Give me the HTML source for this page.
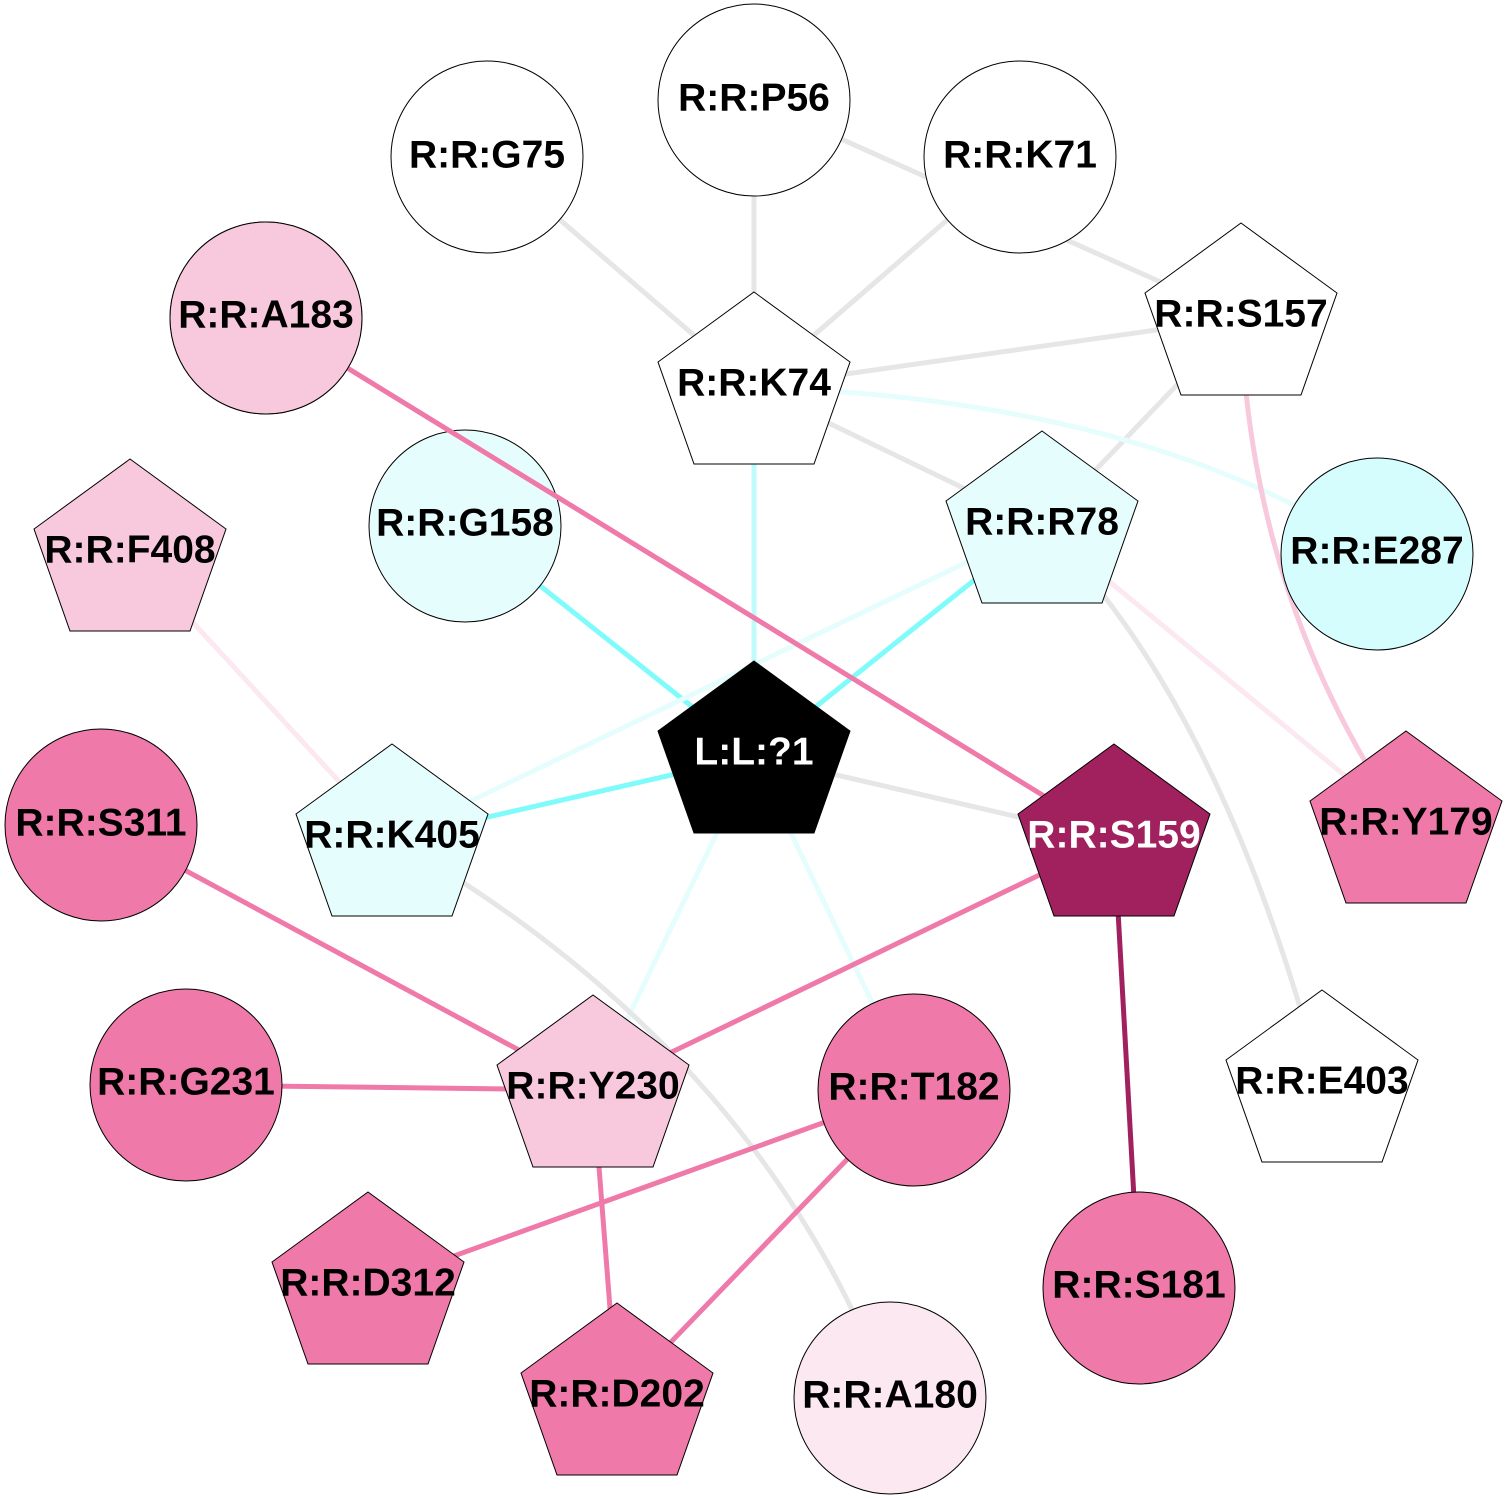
<!DOCTYPE html>
<html><head><meta charset="utf-8"><style>body{margin:0;background:#fff}svg{display:block}text{font-family:"Liberation Sans",sans-serif;font-weight:bold;font-size:39px;text-anchor:middle;dominant-baseline:central}</style></head><body>
<svg width="1507" height="1500" viewBox="0 0 1507 1500" xmlns="http://www.w3.org/2000/svg">
<g fill="none" stroke-width="5">
<line x1="754" y1="100" x2="754" y2="387" stroke="#e6e6e6"/>
<line x1="487" y1="157" x2="754" y2="387" stroke="#e6e6e6"/>
<line x1="1020" y1="157" x2="754" y2="387" stroke="#e6e6e6"/>
<line x1="754" y1="100" x2="1241" y2="318" stroke="#e6e6e6"/>
<line x1="754" y1="387" x2="1241" y2="318" stroke="#e6e6e6"/>
<line x1="1241" y1="318" x2="1042" y2="526" stroke="#e6e6e6"/>
<line x1="754" y1="387" x2="1042" y2="526" stroke="#e6e6e6"/>
<path d="M754 387 Q1150 400 1377 554" stroke="#e6fdfd"/>
<path d="M1241 318 Q1250 600 1406 826" stroke="#f8c8dc"/>
<line x1="754" y1="387" x2="754" y2="756" stroke="#c0fbfb"/>
<line x1="465" y1="526" x2="754" y2="756" stroke="#80fbfb"/>
<line x1="1042" y1="526" x2="754" y2="756" stroke="#80fbfb"/>
<line x1="1042" y1="526" x2="392" y2="839" stroke="#e6fdfd"/>
<line x1="392" y1="839" x2="754" y2="756" stroke="#80fbfb"/>
<line x1="130" y1="554" x2="392" y2="839" stroke="#fbe8f1"/>
<line x1="754" y1="756" x2="1114" y2="839" stroke="#e6e6e6"/>
<line x1="1042" y1="526" x2="1406" y2="826" stroke="#fbe8f1"/>
<path d="M1042 526 Q1220 700 1322 1085" stroke="#e6e6e6"/>
<line x1="754" y1="756" x2="593" y2="1090" stroke="#e6fdfd"/>
<line x1="754" y1="756" x2="914" y2="1090" stroke="#e6fdfd"/>
<path d="M392 839 Q760 1050 890 1398" stroke="#e6e6e6"/>
<line x1="1114" y1="839" x2="593" y2="1090" stroke="#ef7aa9"/>
<line x1="1114" y1="839" x2="1139" y2="1288" stroke="#a0215e"/>
<line x1="101" y1="825" x2="593" y2="1090" stroke="#ef7aa9"/>
<line x1="186" y1="1085" x2="593" y2="1090" stroke="#ef7aa9"/>
<line x1="593" y1="1090" x2="617" y2="1398" stroke="#ef7aa9"/>
<line x1="914" y1="1090" x2="368" y2="1287" stroke="#ef7aa9"/>
<line x1="914" y1="1090" x2="617" y2="1398" stroke="#ef7aa9"/>
</g>
<defs><polygon id="p" points="0,0 96,70 60,172 -60,172 -96,70"/></defs>
<g stroke="#000" stroke-width="1">
<circle cx="754" cy="100" r="96" fill="#fff"/>
<circle cx="487" cy="157" r="96" fill="#fff"/>
<circle cx="1020" cy="157" r="96" fill="#fff"/>
<circle cx="266" cy="318" r="96" fill="#f8c8dc"/>
<circle cx="465" cy="526" r="96" fill="#e6fdfd"/>
</g>
<line x1="266" y1="318" x2="1114" y2="839" stroke="#ef7aa9" stroke-width="5"/>
<circle cx="266" cy="318" r="96" fill="#f8c8dc" stroke="#000"/>
<g stroke="#000" stroke-width="1">
<circle cx="1377" cy="554" r="96" fill="#d5fdfd"/>
<circle cx="101" cy="825" r="96" fill="#ef7aa9"/>
<circle cx="186" cy="1085" r="96" fill="#ef7aa9"/>
<circle cx="914" cy="1090" r="96" fill="#ef7aa9"/>
<circle cx="1139" cy="1288" r="96" fill="#ef7aa9"/>
<circle cx="890" cy="1398" r="96" fill="#fbe8f1"/>
<use href="#p" x="754" y="292" fill="#fff"/>
<use href="#p" x="1241" y="223" fill="#fff"/>
<use href="#p" x="1042" y="431" fill="#e6fdfd"/>
<use href="#p" x="130" y="459" fill="#f8c8dc"/>
<use href="#p" x="754" y="661" fill="#000"/>
<use href="#p" x="392" y="744" fill="#e6fdfd"/>
<use href="#p" x="1114" y="744" fill="#a0215e"/>
<use href="#p" x="1406" y="731" fill="#ef7aa9"/>
<use href="#p" x="593" y="995" fill="#f8c8dc"/>
<use href="#p" x="1322" y="990" fill="#fff"/>
<use href="#p" x="368" y="1192" fill="#ef7aa9"/>
<use href="#p" x="617" y="1303" fill="#ef7aa9"/>
</g>
<g fill="#000">
<text x="754" y="98">R:R:P56</text>
<text x="487" y="155">R:R:G75</text>
<text x="1020" y="155">R:R:K71</text>
<text x="266" y="315">R:R:A183</text>
<text x="465" y="523">R:R:G158</text>
<text x="1377" y="551">R:R:E287</text>
<text x="101" y="823">R:R:S311</text>
<text x="186" y="1082">R:R:G231</text>
<text x="914" y="1087">R:R:T182</text>
<text x="1139" y="1285">R:R:S181</text>
<text x="890" y="1395">R:R:A180</text>
<text x="754" y="383">R:R:K74</text>
<text x="1241" y="314">R:R:S157</text>
<text x="1042" y="522">R:R:R78</text>
<text x="130" y="550">R:R:F408</text>
<text x="754" y="752" fill="#fff">L:L:?1</text>
<text x="392" y="835">R:R:K405</text>
<text x="1114" y="835" fill="#fff">R:R:S159</text>
<text x="1406" y="822">R:R:Y179</text>
<text x="593" y="1086">R:R:Y230</text>
<text x="1322" y="1081">R:R:E403</text>
<text x="368" y="1283">R:R:D312</text>
<text x="617" y="1394">R:R:D202</text>
</g>
</svg>
</body></html>
